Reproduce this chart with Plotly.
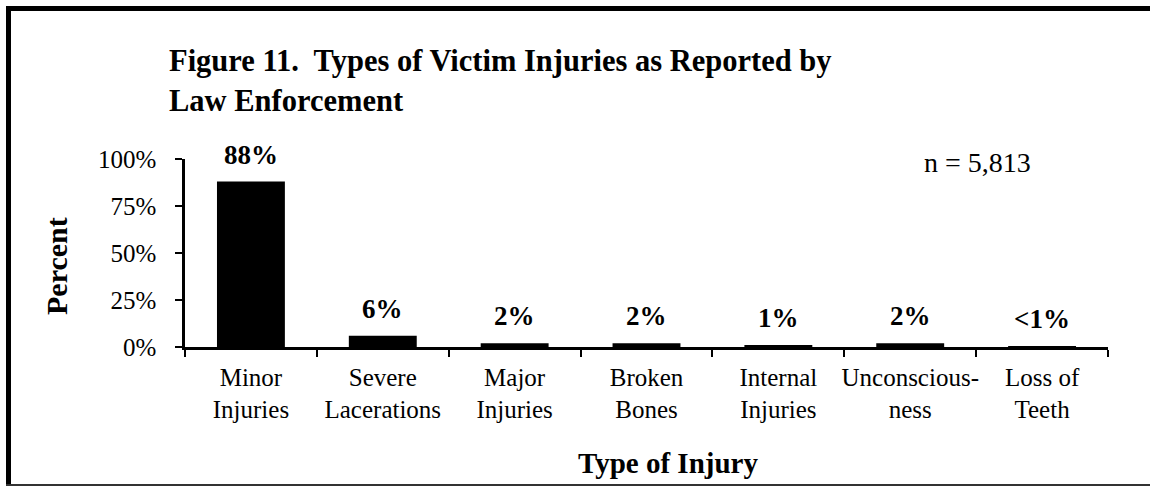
import plotly.graph_objects as go

categories = ["Minor<br>Injuries", "Severe<br>Lacerations", "Major<br>Injuries", "Broken<br>Bones",
              "Internal<br>Injuries", "Unconscious-<br>ness", "Loss of<br>Teeth"]
values = [88, 6, 2, 2, 1, 2, 0.5]
value_labels = ["88%", "6%", "2%", "2%", "1%", "2%", "<1%"]
y_ticks = [0, 25, 50, 75, 100]
y_tick_labels = ["0%", "25%", "50%", "75%", "100%"]

W, H = 1154, 487
L, R, T, B = 185, 46, 159, 140          # plot area in page pixels
pw, ph = W - L - R, H - T - B

def px(x):
    return (x - L) / pw

def py(y):
    return (H - B - y) / ph

FONT = "Liberation Serif, Times New Roman, serif"

fig = go.Figure(go.Bar(x=categories, y=values, marker=dict(color="black", line=dict(width=0)),
                       hoverinfo="skip"))

annotations = []
for c, v, t in zip(categories, values, value_labels):
    annotations.append(dict(x=c, y=v, xref="x", yref="y", text="<b>%s</b>" % t, showarrow=False,
                            yanchor="bottom", yshift=10, font=dict(size=27, color="black", family=FONT)))

annotations += [
    dict(x=px(167), y=py(81), xref="paper", yref="paper", xanchor="left", yanchor="middle", align="left",
         text="<b>Figure 11.  Types of Victim Injuries as Reported by<br>Law Enforcement</b>",
         showarrow=False, font=dict(size=30.5, color="black", family=FONT)),
    dict(x=px(977), y=py(162), xref="paper", yref="paper", xanchor="center", yanchor="middle",
         text="n = 5,813", showarrow=False, font=dict(size=28, color="black", family=FONT)),
    dict(x=px(668), y=py(463), xref="paper", yref="paper", xanchor="center", yanchor="middle",
         text="<b>Type of Injury</b>", showarrow=False, font=dict(size=29, color="black", family=FONT)),
    dict(x=px(56), y=py(266), xref="paper", yref="paper", xanchor="center", yanchor="middle",
         text="<b>Percent</b>", textangle=-90, showarrow=False,
         font=dict(size=30, color="black", family=FONT)),
]

# frame: thick top and left rules, thin bottom rule (no right rule in the original)
shapes = [
    dict(type="line", xref="paper", yref="paper", x0=px(6), x1=px(W - 4), y0=py(8.5), y1=py(8.5),
         line=dict(color="black", width=5)),
    dict(type="line", xref="paper", yref="paper", x0=px(8.5), x1=px(8.5), y0=py(6), y1=py(486),
         line=dict(color="black", width=5)),
    dict(type="line", xref="paper", yref="paper", x0=px(6), x1=px(W - 4), y0=py(485), y1=py(485),
         line=dict(color="#333333", width=2)),
]

fig.update_layout(
    width=W, height=H,
    margin=dict(l=L, r=R, t=T, b=B, autoexpand=False),
    paper_bgcolor="white", plot_bgcolor="white",
    bargap=0.485, showlegend=False,
    font=dict(family=FONT, color="black", size=25),
    annotations=annotations, shapes=shapes,
    xaxis=dict(showline=True, linecolor="black", linewidth=2.5, ticks="outside", tickson="boundaries",
               ticklen=7, tickwidth=2, tickcolor="black", showgrid=False, zeroline=False,
               tickangle=0, tickfont=dict(size=25, family=FONT, color="black"), ticklabelstandoff=6),
    yaxis=dict(range=[0, 100], tickvals=y_ticks, ticktext=y_tick_labels, showline=True,
               linecolor="black", linewidth=2.5, ticks="outside", ticklen=7, tickwidth=2,
               tickcolor="black", showgrid=False, zeroline=False,
               tickfont=dict(size=25, family=FONT, color="black"), ticklabelstandoff=14),
)

fig.write_html("out.html", config={"displayModeBar": False},
               post_script="document.documentElement.style.overflow='hidden';"
                           "document.body.style.margin='0';document.body.style.overflow='hidden';")
